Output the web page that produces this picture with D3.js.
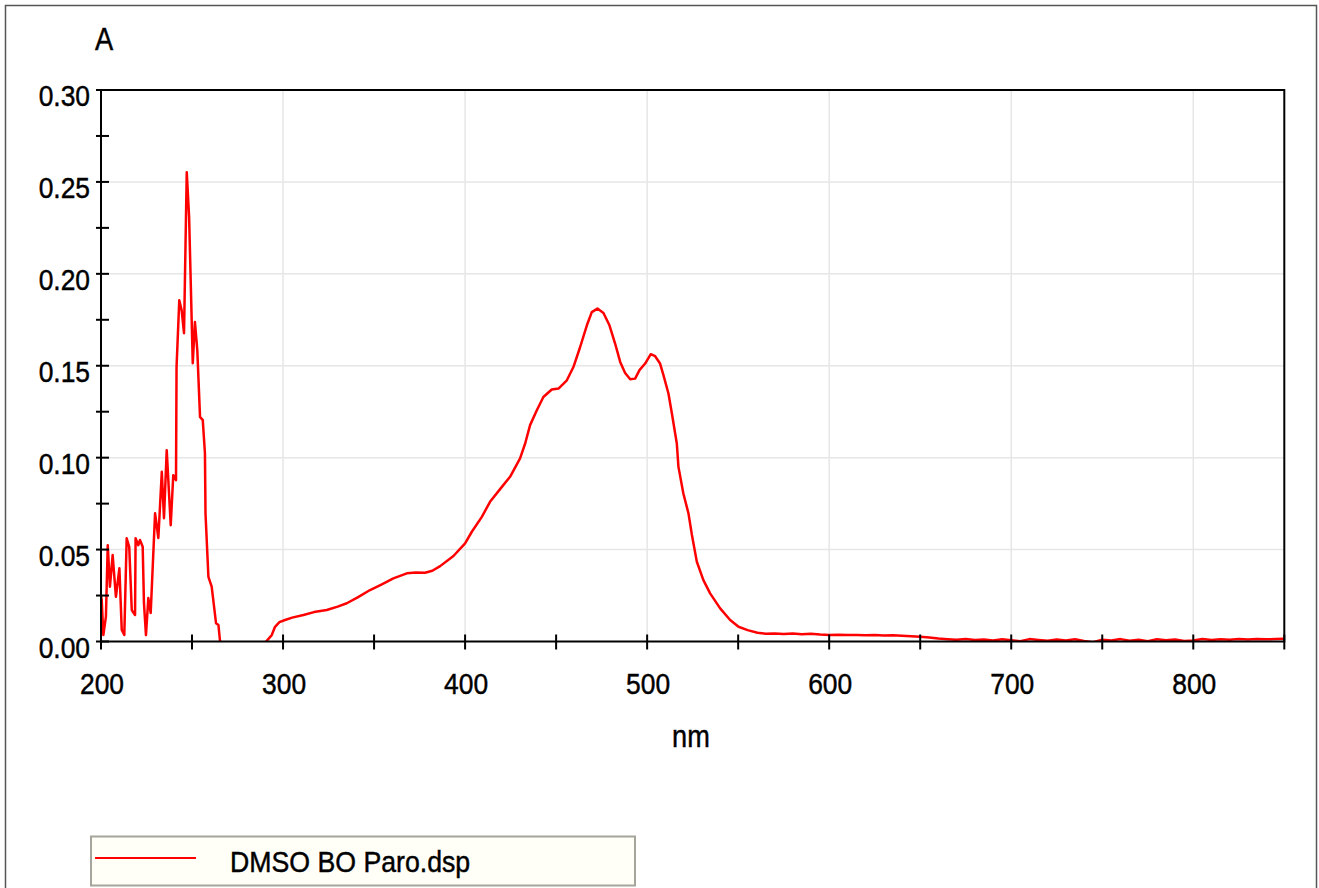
<!DOCTYPE html>
<html>
<head>
<meta charset="utf-8">
<script src="https://cdn.jsdelivr.net/npm/d3@7"></script>
<style>
  body { margin: 0; background: #fff; }
  text { font-family: "Liberation Sans", Arial, sans-serif; fill: #000; stroke: #000; stroke-width: 0.45px; }
</style>
</head>
<body>
<div class="spectrum"></div>
<script>
// wavelength (nm) and absorbance
var wavelength = [200,200.4,201.3,202.7,203.7,204.9,206.4,208.2,210.1,211.4,212.8,214.1,215.5,216.9,218.7,219.0,
  220.5,221.4,222.9,223.6,224.7,226.0,227.3,229.7,231.5,233.4,234.6,236.1,238.3,239.7,241.2,241.5,
  243.0,244.3,245.6,247.1,248.4,250.4,251.6,252.9,254.4,255.9,257.1,257.4,259.0,260.8,263.2,264.5,265.4,
  268,272,277,282,287,290.7,
  293.8,295.6,298,301.1,305,311.2,317,324,330,335,341,347.8,354,360.6,368,373,378,382,386.3,393.6,
  400,403.7,409.2,413.7,420.2,424.7,430.2,433,435.7,439.4,443,447.6,451.3,455.9,459.5,463.2,466.9,469.6,
  472.7,476,479.3,482.4,485.2,487.9,490.7,493.4,495.8,498.9,502,504.4,507.1,509,511.7,513.6,516.3,517.2,
  519.9,522.7,524.6,527.3,530.9,534.6,540.1,545.6,550.2,555.2,560.6,565,570,575,580,585,590,595,600,
  605,610,615,620,625,630,635,640,645,650,655,660,665,670,675,680,685,690,695,700,705,710,715,720,725,
  730,735,740,745,750,755,760,765,770,775,780,785,790,795,800,805,810,815,820,825,830,835,840,845,850]
var absorbance = [0.025,0.0226,0.0035,0.0135,0.0524,0.0298,0.047,0.0243,0.0398,0.0063,0.0035,0.0561,0.0515,0.0171,0.0144,0.0562,
  0.0524,0.0552,0.0515,0.0209,0.0035,0.0236,0.0155,0.0698,0.0563,0.0923,0.0671,0.1041,0.0633,0.0905,0.0878,0.1493,
  0.1856,0.1802,0.1677,0.2553,0.2309,0.1514,0.1738,0.1584,0.1222,0.1204,0.1024,0.0698,0.0352,0.0298,0.0099,0.009,0,
  -0.006,-0.012,-0.015,-0.011,-0.005,0,
  0.0035,0.008,0.0105,0.0117,0.013,0.0144,0.016,0.0171,0.019,0.0208,0.024,0.028,0.031,0.0343,0.0371,0.0375,0.0374,0.0385,0.041,0.0465,
  0.0534,0.0597,0.0678,0.076,0.0841,0.0896,0.0996,0.1077,0.1177,0.1258,0.133,0.1371,0.1376,0.1421,0.1493,0.1602,0.172,0.1792,
  0.1811,0.1787,0.172,0.1621,0.1521,0.1461,0.1427,0.143,0.1476,0.1512,0.1563,0.1552,0.1512,0.1448,0.1349,0.124,0.1077,0.095,
  0.0805,0.0697,0.0579,0.0434,0.0334,0.0262,0.018,0.0117,0.008,0.0062,0.0048,0.0042,0.0044,0.0041,0.0043,0.0039,0.0042,0.0038,0.0036,
  0.0037,0.0035,0.0036,0.0034,0.0035,0.0033,0.0034,0.0031,0.0028,0.0026,0.0022,0.0016,0.0012,0.0009,0.0013,0.0008,0.0011,0.0006,0.0012,0.0007,0.0002,0.0013,0.0008,0.0004,0.0011,
  0.0006,0.0012,0.0003,-0.0004,0.001,0.0006,0.0013,0.0004,0.0009,0.0002,0.0012,0.0007,0.0011,0.0003,0.0006,0.0014,0.0008,0.0012,0.0009,0.0013,0.0011,0.0014,0.0012,0.0013,0.0015]

var xTicks = [200,300,400,500,600,700,800]
var yTicks = [0,0.05,0.10,0.15,0.20,0.25,0.30]
var seriesName = "DMSO BO Paro.dsp"

var W = 1319, H = 888
var plotL = 101, plotR = 1284.3, plotT = 90, plotB = 641.5

var svg = d3.select(".spectrum")
    .append("svg")
    .attr("width", W)
    .attr("height", H)

// outer frame
svg.append("rect")
    .attr("x", 5.5).attr("y", 5.5)
    .attr("width", 1311).attr("height", 900)
    .style("fill", "#fff")
    .style("stroke", "#555")
    .style("stroke-width", 1.5)

var x = d3.scaleLinear().domain([200, 850]).range([plotL, plotR])
var y = d3.scaleLinear().domain([0, 0.30]).range([plotB, plotT])

// grid
svg.append("g").selectAll("line")
    .data(xTicks.filter(d => d > 200))
    .join("line")
    .attr("x1", d => x(d)).attr("x2", d => x(d))
    .attr("y1", plotT).attr("y2", plotB)
    .style("stroke", "#e6e6e6")
    .style("stroke-width", 1.5)

svg.append("g").selectAll("line")
    .data(yTicks.filter(d => d > 0 && d < 0.3))
    .join("line")
    .attr("x1", plotL).attr("x2", plotR)
    .attr("y1", d => y(d)).attr("y2", d => y(d))
    .style("stroke", "#e6e6e6")
    .style("stroke-width", 1.5)

// spectrum line, clipped to plot area
svg.append("clipPath").attr("id", "plotclip")
    .append("rect")
    .attr("x", plotL).attr("y", plotT)
    .attr("width", plotR - plotL).attr("height", plotB - plotT)

var line = d3.line()
    .x((d, i) => x(wavelength[i]))
    .y(d => y(d))

svg.append("path")
    .datum(absorbance)
    .attr("clip-path", "url(#plotclip)")
    .attr("d", line)
    .style("fill", "none")
    .style("stroke", "#ff0000")
    .style("stroke-width", 2.5)
    .style("stroke-linejoin", "round")

// plot frame
svg.append("rect")
    .attr("x", plotL).attr("y", plotT)
    .attr("width", plotR - plotL).attr("height", plotB - plotT)
    .style("fill", "none")
    .style("stroke", "#000")
    .style("stroke-width", 2)

// y ticks every 0.025, x ticks every 50 nm
var yMinor = d3.range(0, 0.3001, 0.025)
svg.append("g").selectAll("line")
    .data(yMinor)
    .join("line")
    .attr("x1", plotL - 5).attr("x2", plotL + 8)
    .attr("y1", d => y(d)).attr("y2", d => y(d))
    .style("stroke", "#000")
    .style("stroke-width", 2)

var xMinor = d3.range(200, 851, 50)
svg.append("g").selectAll("line")
    .data(xMinor)
    .join("line")
    .attr("x1", d => x(d)).attr("x2", d => x(d))
    .attr("y1", plotB - 7).attr("y2", plotB + 8)
    .style("stroke", "#000")
    .style("stroke-width", 2)

// narrow text helper
function label(txt, tx, ty, size, anchor, sx) {
  return svg.append("text")
      .attr("transform", "translate(" + tx + "," + ty + ") scale(" + sx + ",1)")
      .attr("text-anchor", anchor)
      .style("font-size", size + "px")
      .text(txt)
}

yTicks.forEach(d => label(d.toFixed(2), 90, y(d) + 16, 30, "end", 0.88))
xTicks.forEach(d => label(d, x(d) + 1, 693.5, 30, "middle", 0.88))

label("A", 95, 50, 31, "start", 0.88)
label("nm", 691, 746.5, 32, "middle", 0.85)

// legend
svg.append("rect")
    .attr("x", 91).attr("y", 836.5)
    .attr("width", 544).attr("height", 49)
    .style("fill", "#fffff8")
    .style("stroke", "#a5a59c")
    .style("stroke-width", 2)

svg.append("line")
    .attr("x1", 95).attr("x2", 196)
    .attr("y1", 858).attr("y2", 858)
    .style("stroke", "#ff0000")
    .style("stroke-width", 2)

label(seriesName, 230, 872, 30, "start", 0.89)
</script>
</body>
</html>
